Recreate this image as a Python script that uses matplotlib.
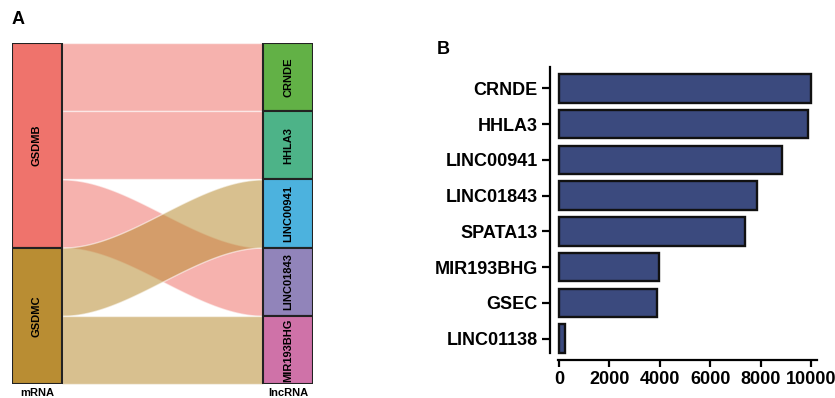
import numpy as np
import matplotlib
matplotlib.use('Agg')
from matplotlib import pyplot as plt, patches

plt.rcParams['font.family'] = ['Liberation Sans', 'DejaVu Sans']

# panel A: sankey mRNA -> lncRNA
mrna = ['GSDMB', 'GSDMC']
mrna_colors = ['#EF736C', '#B98D33']
lnc = ['CRNDE', 'HHLA3', 'LINC00941', 'LINC01843', 'MIR193BHG']
lnc_colors = ['#62B146', '#4DB388', '#4CB2DE', '#9184BA', '#CF72A8']
# (mRNA index, lncRNA index), in stacking order on the mRNA side
links = [(0, 0), (0, 1), (0, 3), (1, 2), (1, 4)]

# panel B: bar chart
genes = ['CRNDE', 'HHLA3', 'LINC00941', 'LINC01843', 'SPATA13', 'MIR193BHG', 'GSEC', 'LINC01138']
values = [10000, 9870, 8860, 7870, 7380, 3970, 3880, 250]

W, H = 835, 398
fig = plt.figure(figsize=(W / 100, H / 100), dpi=100)

def px_axes(x0, y0, x1, y1):
    # pixel box (top-left origin) -> figure axes
    return fig.add_axes([x0 / W, 1 - y1 / H, (x1 - x0) / W, (y1 - y0) / H])

# ---------- A ----------
axA = px_axes(12, 43, 313, 384)
bw = 50 / 301
total = len(links)
axA.set_xlim(0, 1)
axA.set_ylim(total, 0)
axA.axis('off')

# node positions
mrna_count = [sum(1 for l in links if l[0] == i) for i in range(len(mrna))]
mrna_start = np.concatenate([[0], np.cumsum(mrna_count)[:-1]])
lnc_count = [sum(1 for l in links if l[1] == j) for j in range(len(lnc))]
lnc_start = np.concatenate([[0], np.cumsum(lnc_count)[:-1]])

# flows
t = np.linspace(0, 1, 200)
s = 3 * t ** 2 - 2 * t ** 3
xs = bw + t * (1 - 2 * bw)
left_used = [0] * len(mrna)
right_used = [0] * len(lnc)
flow_patches = []
for (i, j) in links:
    y0 = mrna_start[i] + left_used[i]
    y1 = lnc_start[j] + right_used[j]
    left_used[i] += 1
    right_used[j] += 1
    top = y0 + (y1 - y0) * s
    flow_patches.append((top, i))
for top, i in flow_patches:
    axA.fill_between(xs, top, top + 1, color=mrna_colors[i], alpha=0.55,
                     edgecolor='white', linewidth=1.0, zorder=1)

for i, name in enumerate(mrna):
    axA.add_patch(patches.Rectangle((0, mrna_start[i]), bw, mrna_count[i],
                                    facecolor=mrna_colors[i], edgecolor='#222222', lw=1.5, zorder=3))
    axA.text(bw / 2, mrna_start[i] + mrna_count[i] / 2, name, rotation=90, ha='center', va='center',
             fontsize=8, fontweight='bold', zorder=4)
for j, name in enumerate(lnc):
    axA.add_patch(patches.Rectangle((1 - bw, lnc_start[j]), bw, lnc_count[j],
                                    facecolor=lnc_colors[j], edgecolor='#222222', lw=1.5, zorder=3))
    axA.text(1 - bw / 2, lnc_start[j] + lnc_count[j] / 2, name, rotation=90, ha='center', va='center',
             fontsize=8, fontweight='bold', zorder=4)

axA.text(bw / 2, total + 0.06, 'mRNA', ha='center', va='top', fontsize=8, fontweight='bold', clip_on=False)
axA.text(1 - bw / 2, total + 0.06, 'lncRNA', ha='center', va='top', fontsize=8, fontweight='bold', clip_on=False)

fig.text(12 / W, 1 - 19 / H, 'A', fontsize=13, fontweight='bold', ha='left', va='center')
fig.text(437 / W, 1 - 50 / H, 'B', fontsize=13, fontweight='bold', ha='left', va='center')

# ---------- B ----------
axB = px_axes(556, 67, 817, 360)
ypos = np.arange(len(genes))
axB.barh(ypos, values, height=0.8, color='#3B4A7E', edgecolor='#111111', linewidth=1.7)
axB.set_xlim(-120, 10240)
axB.set_ylim(len(genes) - 0.4, -0.6)
axB.set_yticks(ypos)
axB.set_yticklabels(genes)
axB.set_xticks([0, 2000, 4000, 6000, 8000, 10000])
for sp in ['top', 'right']:
    axB.spines[sp].set_visible(False)
axB.spines['left'].set_position(('outward', 4))
axB.spines['left'].set_linewidth(1.6)
axB.spines['left'].set_bounds(len(genes) - 0.6, -0.6)
axB.spines['bottom'].set_linewidth(1.6)
axB.spines['bottom'].set_bounds(-40, 10240)
axB.tick_params(axis='y', length=6, width=1.6, pad=3, labelsize=13)
axB.tick_params(axis='x', length=5, width=1.6, pad=3, labelsize=13)
for lab in axB.get_yticklabels() + axB.get_xticklabels():
    lab.set_fontweight('bold')

fig.savefig('out.png', dpi=100)
